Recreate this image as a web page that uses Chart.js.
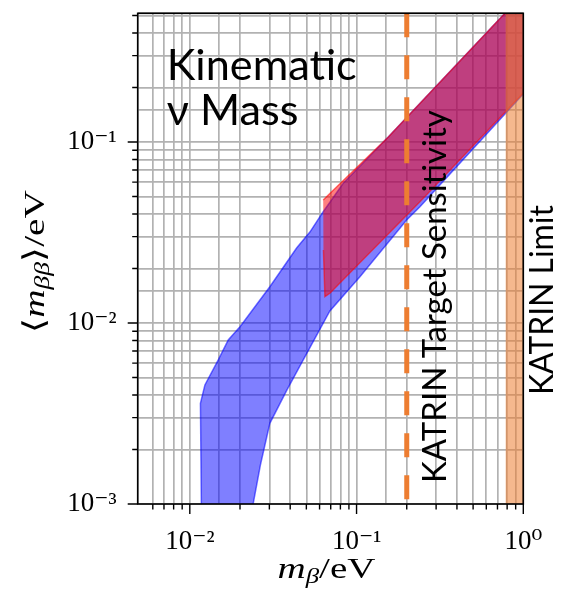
<!DOCTYPE html>
<html><head><meta charset="utf-8">
<script src="https://cdn.jsdelivr.net/npm/chart.js@4.4.1/dist/chart.umd.min.js"></script>
<style>html,body{margin:0;padding:0;background:#fff}</style>
</head><body>
<canvas id="c" width="561" height="600"></canvas>
<script>
// ---- data ----
const xRange = [0.00487, 1];
const yRange = [0.001, 0.514];
const xTickValues = [0.01, 0.1, 1];
const xTickLabels = ['10⁻²', '10⁻¹', '10⁰'];
const yTickValues = [0.001, 0.01, 0.1];
const yTickLabels = ['10⁻³', '10⁻²', '10⁻¹'];

// blue band (allowed region, normal ordering) — polygon outline
const blueX = [0.01175, 0.01158, 0.01232, 0.01481, 0.0170, 0.0200, 0.0302, 0.0437, 0.0525, 0.0631, 0.0832, 0.155, 0.759, 1.26,
               1.26, 1.0, 0.24, 0.1998, 0.1048, 0.0692, 0.0479, 0.0382, 0.0302, 0.0265, 0.0232];
const blueY = [0.00085, 0.0036, 0.00455, 0.00625, 0.00806, 0.00954, 0.01587, 0.02597, 0.0318, 0.0412, 0.0591, 0.1066, 0.503, 0.837,
               0.2258, 0.1842, 0.0439, 0.0371, 0.0180, 0.01165, 0.00625, 0.00426, 0.00279, 0.00164, 0.00085];

// red band (inverted ordering) — polygon outline
const redX = [0.0631, 0.0709, 0.155, 0.759, 1.26, 1.26, 1.0, 0.24, 0.0692, 0.0646, 0.0633];
const redY = [0.0478, 0.0531, 0.1066, 0.503, 0.837, 0.2315, 0.1865, 0.0468, 0.0146, 0.01397, 0.0253];

// KATRIN limit band and target sensitivity
const limitX = [0.784, 0.784, 1.0, 1.0];
const limitY = [0.001, 0.514, 0.514, 0.001];
const targetX = [0.2, 0.2];
const targetY = [0.514, 0.001];

const labelKinematic = ['Kinematic', 'ν Mass'];
const labelTarget = 'KATRIN Target Sensitivity';
const labelLimit = 'KATRIN Limit';

// ---- helpers ----
const pts = (xs, ys) => xs.map((v, i) => ({x: v, y: ys[i]}));
function tickLabel(values, labels) {
  return function (v) {
    for (let i = 0; i < values.length; i++) {
      if (Math.abs(Math.log10(v) - Math.log10(values[i])) < 1e-6) return labels[i];
    }
    return '';
  };
}
function mantissa(v) {
  const e = Math.floor(Math.log10(v) + 1e-9);
  return v / Math.pow(10, e);
}

const SERIF = "'Liberation Serif', 'DejaVu Serif', serif";
const SANS = "Lato, 'Open Sans', sans-serif";

function drawMixed(ctx, parts, targetW) {
  // parts drawn in a row, centred at 0, stretched horizontally to targetW
  let w = 0;
  for (const p of parts) { ctx.font = `${p.italic ? 'italic ' : ''}${p.size}px ${SERIF}`; p.w = ctx.measureText(p.t).width; w += p.w; }
  ctx.save();
  ctx.scale(targetW / w, 1);
  let cx = -w / 2;
  for (const p of parts) {
    ctx.font = `${p.italic ? 'italic ' : ''}${p.size}px ${SERIF}`;
    ctx.fillText(p.t, cx, p.dy);
    cx += p.w;
  }
  ctx.restore();
}

const overlay = {
  id: 'overlay',
  afterDraw(chart) {
    const {ctx, chartArea: a, scales: {x, y}} = chart;
    ctx.save();
    // frame
    ctx.strokeStyle = '#000';
    ctx.lineWidth = 1.6;
    ctx.strokeRect(a.left, a.top, a.right - a.left, a.bottom - a.top);
    // tick marks (major longer than minor)
    ctx.lineWidth = 1.4;
    ctx.beginPath();
    for (const t of x.ticks) {
      const m = mantissa(t.value);
      if (Math.abs(m - Math.round(m)) > 1e-6 || t.value < x.min || t.value > x.max) continue;
      const len = Math.round(m) === 1 ? 10 : 5.5;
      const px = x.getPixelForValue(t.value);
      ctx.moveTo(px, a.bottom); ctx.lineTo(px, a.bottom + len);
    }
    for (const t of y.ticks) {
      const m = mantissa(t.value);
      if (Math.abs(m - Math.round(m)) > 1e-6 || t.value < y.min || t.value > y.max) continue;
      const len = Math.round(m) === 1 ? 10 : 5.5;
      const py = y.getPixelForValue(t.value);
      ctx.moveTo(a.left, py); ctx.lineTo(a.left - len, py);
    }
    ctx.stroke();

    ctx.fillStyle = '#000';
    ctx.textBaseline = 'alphabetic';
    ctx.textAlign = 'left';
    // x axis title: m_β/eV
    ctx.save();
    ctx.translate((a.left + a.right) / 2 - 4, a.bottom + 74);
    drawMixed(ctx, [
      {t: 'm', size: 29, italic: true, dy: 0},
      {t: 'β', size: 20, italic: true, dy: 5},
      {t: '/eV', size: 29, italic: false, dy: 0}
    ], 98);
    ctx.restore();
    // y axis title: ⟨m_ββ⟩/eV
    ctx.save();
    ctx.translate(44, (a.top + a.bottom) / 2 + 3);
    ctx.rotate(-Math.PI / 2);
    drawMixed(ctx, [
      {t: '⟨', size: 30, italic: false, dy: 0},
      {t: 'm', size: 30, italic: true, dy: 0},
      {t: 'ββ', size: 21, italic: true, dy: 5},
      {t: '⟩/eV', size: 30, italic: false, dy: 0}
    ], 143);
    ctx.restore();
    // annotations
    {
      ctx.font = `42px ${SANS}`;
      const s = 42 * 190 / ctx.measureText(labelKinematic[0]).width;
      ctx.font = `${s}px ${SANS}`;
      ctx.fillText(labelKinematic[0], a.left + 29, a.top + 67);
      ctx.fillText(labelKinematic[1], a.left + 29, a.top + 112);
    }
    {
      ctx.font = `33px ${SANS}`;
      const s = 33 * 373 / ctx.measureText(labelTarget).width;
      ctx.save();
      ctx.translate(x.getPixelForValue(targetX[0]) + 39, a.bottom - 21);
      ctx.rotate(-Math.PI / 2);
      ctx.font = `${s}px ${SANS}`;
      ctx.fillText(labelTarget, 0, 0);
      ctx.restore();
    }
    {
      ctx.font = `33px ${SANS}`;
      const s = 33 * 190 / ctx.measureText(labelLimit).width;
      ctx.save();
      ctx.translate(a.right + 30, a.bottom - 109);
      ctx.rotate(-Math.PI / 2);
      ctx.font = `${s}px ${SANS}`;
      ctx.fillText(labelLimit, 0, 0);
      ctx.restore();
    }
    ctx.restore();
  }
};

const gridOpts = {color: '#b2b2b2', lineWidth: 1.7, drawTicks: false};

new Chart(document.getElementById('c'), {
  type: 'scatter',
  data: {
    datasets: [
      {label: 'KATRIN target', data: pts(targetX, targetY), showLine: true, order: 0,
       borderColor: '#ed7d31', borderWidth: 5, borderDash: [24, 18], borderCapStyle: 'butt',
       pointRadius: 0, fill: false},
      {label: 'KATRIN limit', data: pts(limitX, limitY), showLine: true, order: 1,
       borderColor: 'rgba(0,0,0,0)', borderWidth: 0, backgroundColor: 'rgba(237,125,49,0.55)',
       pointRadius: 0, fill: 'shape'},
      {label: 'red', data: pts(redX, redY), showLine: true, order: 2,
       borderColor: 'rgba(255,0,0,0.55)', borderWidth: 1.5, backgroundColor: 'rgba(255,0,0,0.5)',
       pointRadius: 0, fill: 'shape'},
      {label: 'blue', data: pts(blueX, blueY), showLine: true, order: 3,
       borderColor: 'rgba(0,0,255,0.55)', borderWidth: 1.5, backgroundColor: 'rgba(0,0,255,0.5)',
       pointRadius: 0, fill: 'shape'}
    ]
  },
  options: {
    responsive: false,
    animation: false,
    devicePixelRatio: 1,
    layout: {padding: {left: 0, right: 37.7, top: 13.3, bottom: 0}},
    plugins: {legend: {display: false}, tooltip: {enabled: false}},
    scales: {
      x: {
        type: 'logarithmic', min: xRange[0], max: xRange[1],
        grid: gridOpts, border: {display: false},
        ticks: {autoSkip: false, maxRotation: 0, color: '#000', padding: 22,
                font: {family: SERIF, size: 27}, callback: tickLabel(xTickValues, xTickLabels)},
        afterFit(s) { s.height = 96; s.paddingLeft = 0; s.paddingRight = 0; s.paddingTop = 0; s.paddingBottom = 0; }
      },
      y: {
        type: 'logarithmic', min: yRange[0], max: yRange[1],
        grid: gridOpts, border: {display: false},
        ticks: {autoSkip: false, color: '#000', padding: 21,
                font: {family: SERIF, size: 27}, callback: tickLabel(yTickValues, yTickLabels)},
        afterFit(s) { s.width = 137.7; s.paddingLeft = 0; s.paddingRight = 0; s.paddingTop = 0; s.paddingBottom = 0; }
      }
    }
  },
  plugins: [overlay]
});
</script>
</body></html>
